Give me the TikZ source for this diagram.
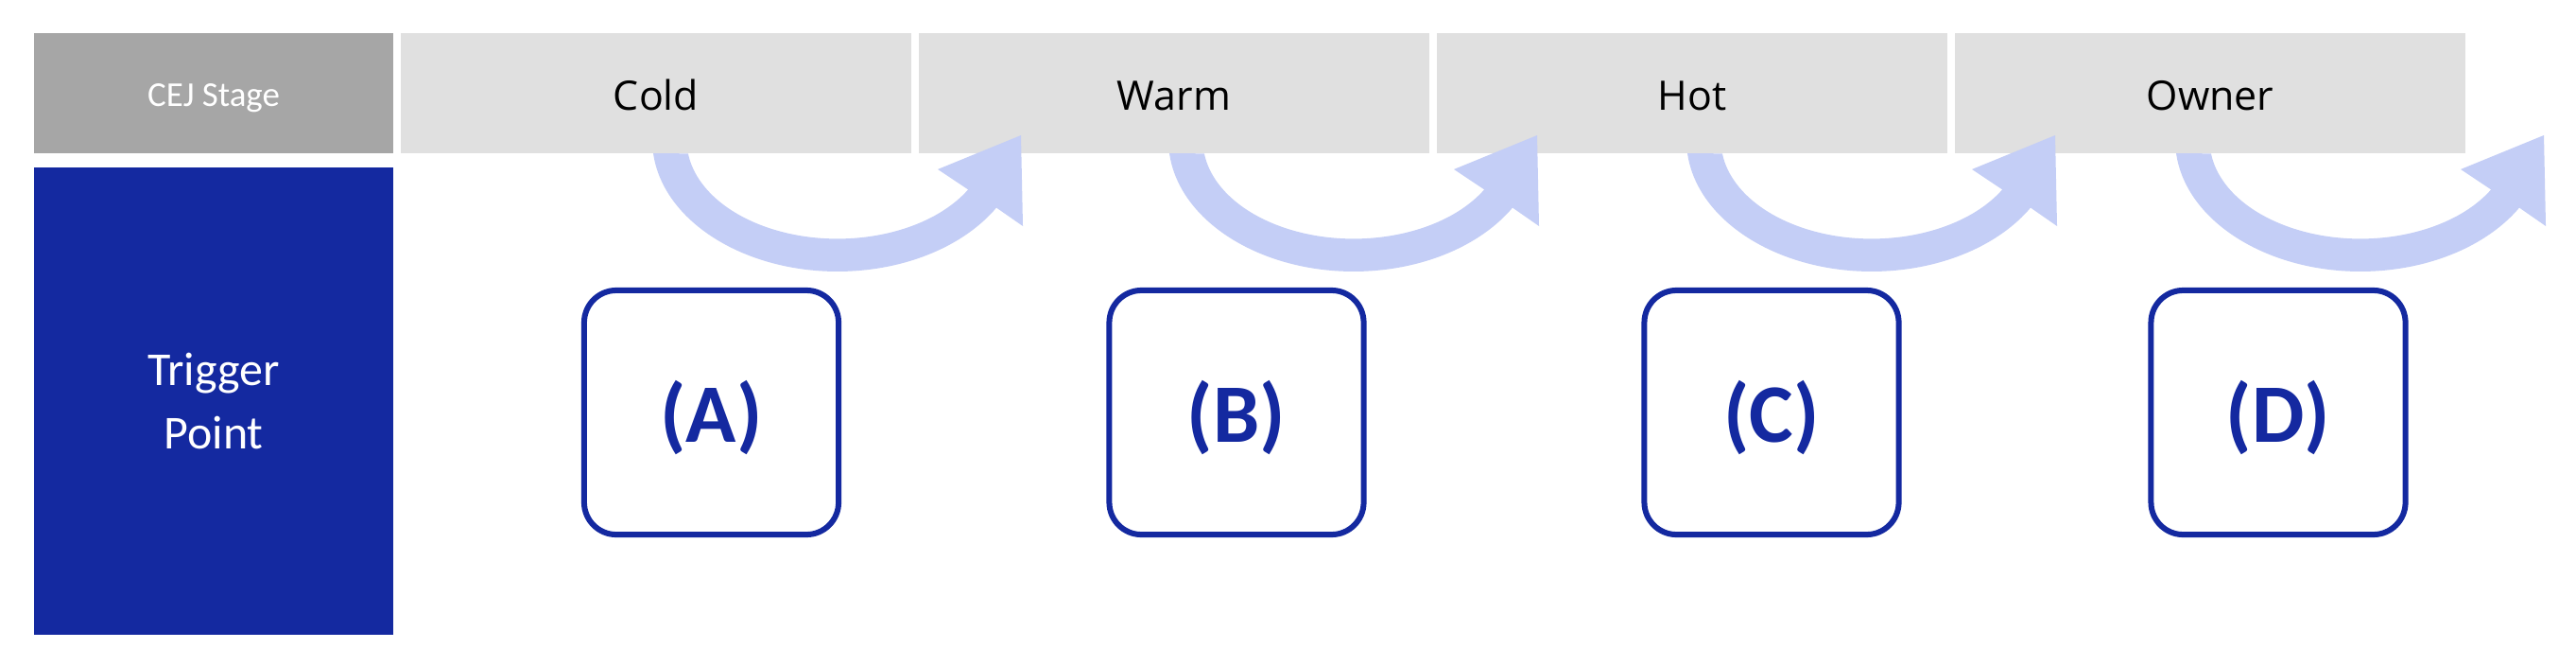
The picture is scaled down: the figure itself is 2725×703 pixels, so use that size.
\documentclass[tikz,border=0pt]{standalone}
\usepackage{fontspec}
\setmainfont{Carlito}
\newfontfamily\stagefont{Open Sans}
\definecolor{tpblue}{RGB}{20,41,160}
\definecolor{cejgray}{RGB}{166,166,166}
\definecolor{stagegray}{RGB}{224,224,224}
\definecolor{arrowblue}{RGB}{196,206,246}
\begin{document}
\begin{tikzpicture}[x=0.01cm,y=-0.01cm,
  hdrbox/.style={fill=cejgray, minimum width=3.8cm, minimum height=1.27cm, inner sep=0pt},
  stagebox/.style={fill=stagegray, minimum width=5.4cm, minimum height=1.27cm, inner sep=0pt},
  stagelabel/.style={anchor=base, inner sep=0pt, font=\stagefont\fontsize{12.2pt}{14pt}\selectfont, text=black},
  trigbox/.style={fill=tpblue, minimum width=3.8cm, minimum height=4.93cm, inner sep=0pt, text=white, align=center,
    font=\fontsize{14.2pt}{19.1pt}\selectfont},
  tbox/.style={draw=tpblue, fill=white, line width=1.707pt, rounded corners=0.34cm,
    minimum width=2.69cm, minimum height=2.58cm, inner sep=0pt},
  tlabel/.style={anchor=base, inner sep=0pt, text=tpblue, font=\bfseries\fontsize{25pt}{30pt}\selectfont},
  curvearrow/.style={fill=arrowblue}
]
\useasboundingbox (0,0) rectangle (2725,703);
\fill[white] (0,0) rectangle (2725,703);

% header column
\node[hdrbox] (cej) at (226,98.5) {};
\node[anchor=base, inner sep=0pt, text=white, font=\fontsize{10.5pt}{12pt}\selectfont] (cejlbl) at (226,112) {CEJ Stage};
\node[trigbox] (trig) at (226,424) {Trigger\\Point};

% stage boxes
\node[stagebox] (cold)  at (694,98.5)  {};
\node[stagebox] (warm)  at (1242,98.5) {};
\node[stagebox] (hot)   at (1790,98.5) {};
\node[stagebox] (owner) at (2338,98.5) {};
\node[stagelabel] (coldlbl)  at (694,116)  {Cold};
\node[stagelabel] (warmlbl)  at (1242,116) {Warm};
\node[stagelabel] (hotlbl)   at (1790,116) {Hot};
\node[stagelabel] (ownerlbl) at (2338,116) {Owner};

% curved arrows
\foreach \xo in {691,1237,1785,2302}{
  \fill[curvearrow] (\xo,162)
    arc[start angle=174.2, end angle=31, x radius=196, y radius=139]
    -- (\xo+391,239) -- (\xo+389,143) -- (\xo+301,179) -- (\xo+333.1,200.4)
    arc[start angle=30, end angle=172.3, x radius=159.5, y radius=104]
    -- cycle;
}

% trigger boxes
\node[tbox] (ta) at (752.5,436) {};
\node[tbox] (tb) at (1308,436) {};
\node[tbox] (tc) at (1874,436) {};
\node[tbox] (td) at (2410,436) {};
\node[tlabel] (la) at (752.5,467) {(A)};
\node[tlabel] (lb) at (1308,467) {(B)};
\node[tlabel] (lc) at (1874,467) {(C)};
\node[tlabel] (ld) at (2410,467) {(D)};
\end{tikzpicture}
\end{document}
